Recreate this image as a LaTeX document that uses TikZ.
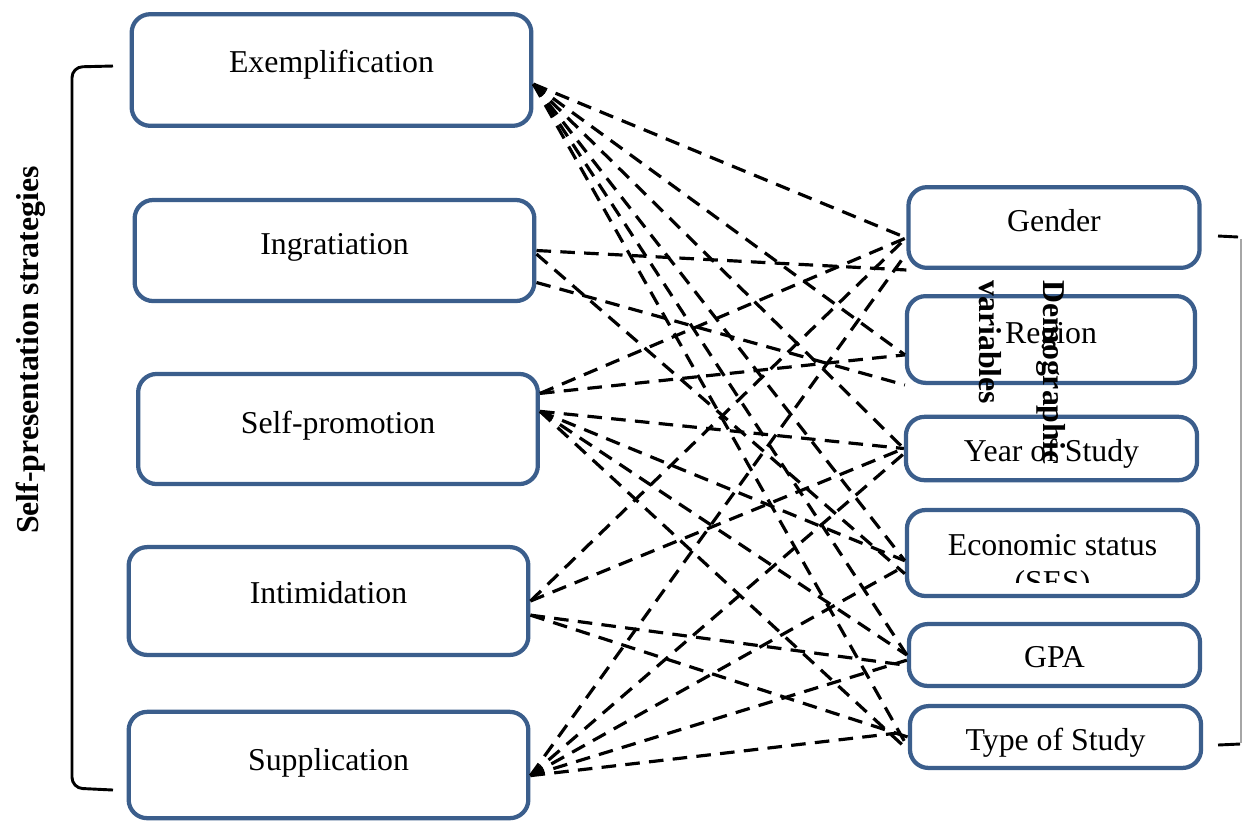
\documentclass[tikz,border=0pt]{standalone}
\usepackage{fontspec}
\setmainfont{Liberation Serif}
\usetikzlibrary{calc}
\definecolor{boxblue}{RGB}{59,94,140}

\begin{document}
\begin{tikzpicture}[x=0.01326cm, y=-0.01326cm,
	sbox/.style={draw=boxblue, line width=1.6pt, rounded corners=7pt, fill=white, font=\fontsize{12}{14}\selectfont},
	lbox/.style={sbox, minimum width=5.3cm},
	rbox/.style={sbox, minimum width=3.86cm},
	lift/.style 2 args={text height=#1, text depth=#2},
	link/.style={line width=1.2pt, dash pattern=on 5.5pt off 3.5pt},
	brace/.style={line width=1.1pt}]
			%%%%% START %%%%%
			
			\useasboundingbox (0,0) rectangle (1242,823);
			
			% strategies
			\node[lbox, lift={9.6pt}{8pt}, minimum height=1.48cm] (exem) at (331.5,70) {Exemplification};
			\node[lbox, lift={11.2pt}{8pt}, minimum height=1.34cm] (ingr) at (334.5,250.5) {Ingratiation};
			\node[lbox, lift={11.2pt}{8pt}, minimum height=1.46cm] (selfp) at (338,429) {Self-promotion};
			\node[lbox, lift={9.7pt}{8pt}, minimum height=1.43cm] (intim) at (328.5,601) {Intimidation};
			\node[lbox, lift={11.9pt}{8pt}, minimum height=1.41cm] (suppl) at (328.5,765) {Supplication};
			
			% demographic variables
			\node[rbox, lift={11pt}{8pt}, minimum height=1.07cm] (gen) at (1054,227.5) {Gender};
			\node[rbox, lift={11.2pt}{8pt}, minimum height=1.15cm, minimum width=3.82cm] (reg) at (1051,339.5) {Region};
			\node[rbox, lift={12pt}{2pt}, minimum height=0.84cm] (year) at (1051.5,448.5) {Year of Study};
			\node[rbox, minimum height=1.14cm] (ses) at (1052.5,553) {};
			\node[rbox, lift={11.4pt}{2pt}, minimum height=0.82cm] (gpa) at (1054.5,655) {GPA};
			\node[rbox, lift={12pt}{2pt}, minimum height=0.82cm] (type) at (1055.5,737) {Type of Study};
			
			\begin{scope}
				\clip (ses.north west) rectangle ($(ses.east)+(0,29)$);
				\node[align=center, font=\fontsize{12}{14}\selectfont] (sestext) at (1052.5,567) {Economic status\\(SES)};
			\end{scope}
			
			% links
			\foreach \a/\b in {exem.-4/gen.184, exem.-4/reg.186, exem.-4/year.west, exem.-4/ses.183, exem.-4/gpa.west, exem.-4/type.184,
				ingr.east/gen.south west, ingr.-9/reg.south west, ingr.-1/ses.188,
				selfp.10/gen.184, selfp.10/reg.186, selfp.5/year.west, selfp.5/ses.183, selfp.5/gpa.west, selfp.5/type.185,
				intim.east/gen.184, intim.east/year.west, intim.-4/gpa.184, intim.-4/type.west,
				suppl.-3/gen.190, suppl.-3/year.182, suppl.-3/ses.185, suppl.-3/gpa.182, suppl.-3/type.178}
				\draw[link] (\a) -- (\b);
			
			% brackets
			\draw[brace, rounded corners=4pt] (113,66) -- (72,67) -- (72,788) -- (113,790);
			\draw[black!35, line width=0.6pt] (1241,239) -- (1241,743);
			\draw[brace] (1218,236) -- (1238,237);
			\draw[brace] (1218,745) -- (1240,744);
			
			% titles
			\node[rotate=90, font=\bfseries\fontsize{12}{14}\selectfont] (sptitle) at (31,350) {Self-presentation strategies};
			\node[rotate=-90, align=left, anchor=north west, inner sep=0pt, font=\bfseries\fontsize{12}{14}\selectfont] (demo) at (1066,280) {Demographic\\[10pt]variables};
			
			%%%%% END %%%%%
\end{tikzpicture}
\end{document}
